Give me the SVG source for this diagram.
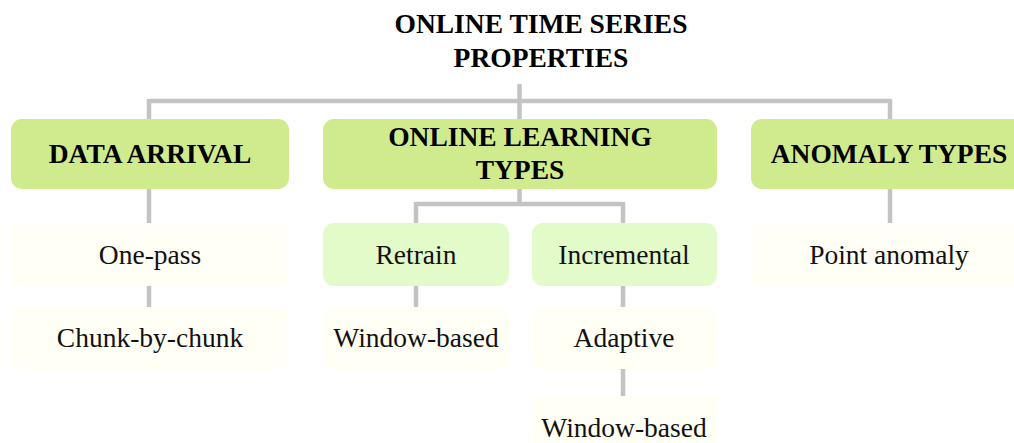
<svg xmlns="http://www.w3.org/2000/svg" width="1014" height="443" viewBox="0 0 1014 443">
<style>
.hdr{fill:#d0eb8e}
.mid{fill:#e3fbc9}
.leaf{fill:#fffff6}
.b{font-family:"Liberation Serif",serif;font-weight:bold;font-size:27.5px;fill:#000;text-anchor:middle}
.t{font-family:"Liberation Serif",serif;font-size:27.5px;fill:#111;text-anchor:middle}
.c{fill:none;stroke:#c3c3c3;stroke-width:4.5}
</style>
<rect width="1014" height="443" fill="#fff"/>
<g id="connectors">
<path class="c" d="M519.5 84V119M149 101H890M149 99V119M890 99V119"/>
<path class="c" d="M149 189V223M149 286V307"/>
<path class="c" d="M519.5 189V204M416 204H623M416 202V223M623 202V223"/>
<path class="c" d="M416 286V307M623 286V307M623 369V396"/>
<path class="c" d="M890 189V223"/>
</g>
<g id="title"><text class="b" x="541" y="33">ONLINE TIME SERIES</text><text class="b" x="541" y="67">PROPERTIES</text></g>
<g id="data-arrival"><rect class="hdr" x="11" y="119" width="278" height="70" rx="11"/><text class="b" x="150" y="163">DATA ARRIVAL</text></g>
<g id="online-learning"><rect class="hdr" x="323" y="119" width="394" height="70" rx="11"/><text class="b" x="520" y="146">ONLINE LEARNING</text><text class="b" x="520" y="179">TYPES</text></g>
<g id="anomaly-types"><rect class="hdr" x="751" y="119" width="278" height="70" rx="11"/><text class="b" x="889" y="163">ANOMALY TYPES</text></g>
<g id="one-pass"><rect class="leaf" x="12" y="223" width="276" height="63" rx="11"/><text class="t" x="150" y="264">One-pass</text></g>
<g id="chunk"><rect class="leaf" x="12" y="307" width="276" height="62" rx="11"/><text class="t" x="150" y="347">Chunk-by-chunk</text></g>
<g id="retrain"><rect class="mid" x="323" y="223" width="186" height="63" rx="11"/><text class="t" x="416" y="264">Retrain</text></g>
<g id="incremental"><rect class="mid" x="532" y="223" width="185" height="63" rx="11"/><text class="t" x="624" y="264">Incremental</text></g>
<g id="window-based-1"><rect class="leaf" x="323" y="307" width="186" height="62" rx="11"/><text class="t" x="416" y="347">Window-based</text></g>
<g id="adaptive"><rect class="leaf" x="532" y="307" width="185" height="62" rx="11"/><text class="t" x="624" y="347">Adaptive</text></g>
<g id="window-based-2"><rect class="leaf" x="532" y="396" width="185" height="62" rx="11"/><text class="t" x="624" y="437">Window-based</text></g>
<g id="point-anomaly"><rect class="leaf" x="751" y="223" width="278" height="63" rx="11"/><text class="t" x="889" y="264">Point anomaly</text></g>
</svg>
